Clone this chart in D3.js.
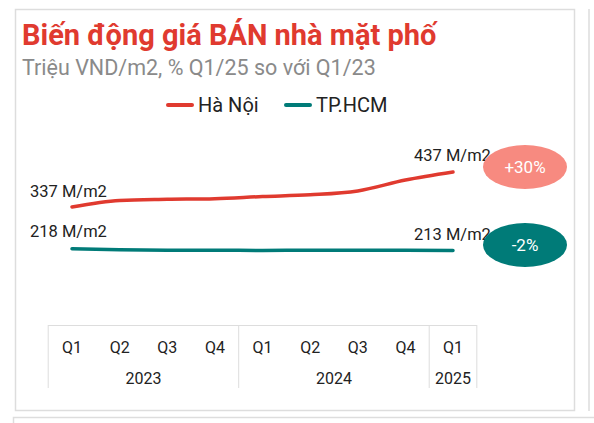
<!DOCTYPE html>
<html lang="vi">
<head>
<meta charset="UTF-8">
<script src="https://d3js.org/d3.v7.min.js"></script>
<style>
  body { margin: 0; background: #fff; font-family: Roboto, "Noto Sans", sans-serif; }
</style>
</head>
<body>
<div id="chart"></div>
<script>
const quarters = ["Q1", "Q2", "Q3", "Q4", "Q1", "Q2", "Q3", "Q4", "Q1"];
const years = [{ name: "2023", span: 4 }, { name: "2024", span: 4 }, { name: "2025", span: 1 }];
const hanoi = [337, 356, 359, 361, 367, 372, 383, 414, 437];
const hcm = [218, 215, 214, 214, 213, 214, 214, 214, 213];
const changes = ["+30%", "-2%"];

const width = 594, height = 423;
const svg = d3.select("#chart").append("svg").attr("width", width).attr("height", height);

// panel frames
svg.append("rect").attr("x", 15.5).attr("y", 9.5).attr("width", 559).attr("height", 401)
  .attr("fill", "none").attr("stroke", "#ddd").attr("stroke-width", 1.5);
svg.append("rect").attr("x", 13.5).attr("y", 417.5).attr("width", 600).attr("height", 20)
  .attr("fill", "none").attr("stroke", "#ddd").attr("stroke-width", 1.5);
svg.append("line").attr("x1", 589).attr("x2", 589).attr("y1", 9).attr("y2", 411).attr("stroke", "#ddd").attr("stroke-width", 1.5);

svg.append("text").attr("x", 22).attr("y", 45).attr("fill", "#e03a2f")
  .attr("font-size", 29).attr("font-weight", "bold").text("Biến động giá BÁN nhà mặt phố");
svg.append("text").attr("x", 22).attr("y", 75).attr("fill", "#8a8a8a")
  .attr("font-size", 21.5).text("Triệu VND/m2, % Q1/25 so với Q1/23");

// legend
const legend = [{ name: "Hà Nội", color: "#e03a2f", x: 168 }, { name: "TP.HCM", color: "#007b78", x: 286 }];
legend.forEach(l => {
  svg.append("line").attr("x1", l.x).attr("x2", l.x + 24).attr("y1", 105).attr("y2", 105)
    .attr("stroke", l.color).attr("stroke-width", 4).attr("stroke-linecap", "round");
  svg.append("text").attr("x", l.x + 30).attr("y", 112).attr("font-size", 20).attr("fill", "#222").text(l.name);
});

const x = d3.scalePoint().domain(d3.range(quarters.length)).range([72, 453]);
const y = d3.scaleLinear().domain([213, 437]).range([250.5, 172]);

const line = d3.line().x((d, i) => x(i)).y(d => y(d)).curve(d3.curveMonotoneX);
[[hanoi, "#e03a2f"], [hcm, "#007b78"]].forEach(([s, c]) => {
  svg.append("path").attr("d", line(s)).attr("fill", "none").attr("stroke", c)
    .attr("stroke-width", 3.5).attr("stroke-linecap", "round");
});

const lab = (xx, yy, t) => svg.append("text").attr("x", xx).attr("y", yy)
  .attr("font-size", 16.5).attr("fill", "#222").text(t);
lab(30, 197, hanoi[0] + " M/m2");
lab(30, 237, hcm[0] + " M/m2");
lab(x(8) - 39, 161, hanoi[8] + " M/m2");
lab(x(8) - 39, 240, hcm[8] + " M/m2");

// change badges
[[changes[0], "#f78a80", 167], [changes[1], "#007b78", 245]].forEach(([t, c, cy]) => {
  svg.append("ellipse").attr("cx", 525).attr("cy", cy).attr("rx", 42).attr("ry", 22).attr("fill", c);
  svg.append("text").attr("x", 525).attr("y", cy + 6).attr("text-anchor", "middle")
    .attr("font-size", 17).attr("fill", "#fff").text(t);
});

// category axis table
const step = x.step();
const left = x(0) - step / 2, right = x(8) + step / 2;
const g = svg.append("g").attr("stroke", "#ddd").attr("stroke-width", 1);
g.append("line").attr("x1", left).attr("x2", right).attr("y1", 325.5).attr("y2", 325.5);
let idx = 0;
const bounds = [left];
years.forEach(yr => { idx += yr.span; bounds.push(x(idx - 1) + step / 2); });
bounds.forEach(b => g.append("line").attr("x1", b).attr("x2", b).attr("y1", 325).attr("y2", 388));
quarters.forEach((q, i) => {
  svg.append("text").attr("x", x(i)).attr("y", 353).attr("text-anchor", "middle")
    .attr("font-size", 16).attr("fill", "#222").text(q);
});
years.forEach((yr, i) => {
  svg.append("text").attr("x", (bounds[i] + bounds[i + 1]) / 2).attr("y", 384).attr("text-anchor", "middle")
    .attr("font-size", 16).attr("fill", "#222").text(yr.name);
});
</script>
</body>
</html>
